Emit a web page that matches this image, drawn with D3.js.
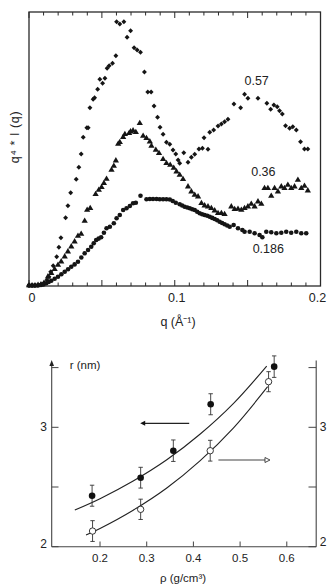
<!DOCTYPE html>
<html><head><meta charset="utf-8">
<script src="https://cdn.jsdelivr.net/npm/d3@7"></script>
<style>
html,body{margin:0;padding:0;background:#fff;}
svg{display:block;font-family:"Liberation Sans",Arial,Helvetica,sans-serif;}
</style></head>
<body>
<script>
// ---------- top panel data: q (1/Å) and q^4*I(q) (arbitrary units) ----------
const q057 = [0,0.0021,0.0041,0.0062,0.0082,0.0103,0.0123,0.0137,0.0149,0.0166,0.0190,0.0205,0.0219,0.0251,0.0267,0.0286,0.0324,0.0342,0.0358,0.0372,0.0397,0.0406,0.0418,0.0440,0.0450,0.0471,0.0486,0.0505,0.0521,0.0536,0.0550,0.0573,0.0596,0.0601,0.0623,0.0651,0.0673,0.0697,0.0721,0.0742,0.0765,0.0792,0.0815,0.0838,0.0858,0.0882,0.0899,0.0920,0.0943,0.0966,0.0988,0.1007,0.1023,0.1034,0.1062,0.1091,0.1114,0.1137,0.1166,0.1190,0.1201,0.1228,0.1240,0.1267,0.1297,0.1320,0.1342,0.1365,0.1406,0.1452,0.1479,0.1502,0.1571,0.1632,0.1658,0.1680,0.1703,0.1719,0.1738,0.1760,0.1788,0.1810,0.1834,0.1863,0.1890,0.1913];
const i057 = [0.005,0.005,0.005,0.010,0.015,0.030,0.060,0.093,0.143,0.203,0.293,0.387,0.483,0.683,0.803,0.933,1.067,1.187,1.320,1.487,1.583,1.583,1.783,1.867,1.883,1.967,2.067,2.027,2.077,2.177,2.203,2.227,2.303,2.643,2.620,2.643,2.487,2.553,2.383,2.360,2.337,2.140,1.940,1.940,1.800,1.687,1.587,1.517,1.437,1.417,1.360,1.320,1.260,1.227,1.333,1.237,1.287,1.317,1.370,1.377,1.483,1.367,1.537,1.560,1.600,1.620,1.643,1.667,1.820,1.783,1.917,1.877,1.877,1.827,1.767,1.810,1.793,1.753,1.720,1.603,1.577,1.593,1.560,1.443,1.370,1.370];

const q036 = [0,0.0021,0.0041,0.0062,0.0082,0.0103,0.0130,0.0153,0.0176,0.0199,0.0221,0.0245,0.0267,0.0290,0.0313,0.0336,0.0358,0.0382,0.0399,0.0420,0.0457,0.0479,0.0498,0.0514,0.0532,0.0566,0.0582,0.0596,0.0612,0.0623,0.0646,0.0658,0.0687,0.0697,0.0714,0.0733,0.0760,0.0783,0.0806,0.0829,0.0840,0.0870,0.0892,0.0920,0.0943,0.0969,0.0993,0.1012,0.1034,0.1057,0.1091,0.1114,0.1137,0.1160,0.1183,0.1205,0.1228,0.1251,0.1274,0.1297,0.1320,0.1342,0.1388,0.1411,0.1434,0.1457,0.1479,0.1502,0.1525,0.1548,0.1571,0.1594,0.1616,0.1639,0.1662,0.1685,0.1708,0.1731,0.1753,0.1776,0.1799,0.1822,0.1845,0.1868,0.1890,0.1913];
const i036 = [0.005,0.005,0.005,0.010,0.015,0.030,0.093,0.127,0.167,0.210,0.243,0.293,0.343,0.393,0.443,0.500,0.520,0.650,0.760,0.777,0.917,0.960,0.987,1.027,1.070,1.160,1.200,1.253,1.420,1.437,1.487,1.517,1.527,1.543,1.553,1.537,1.627,1.500,1.477,1.443,1.400,1.360,1.327,1.267,1.227,1.210,1.180,1.143,1.110,1.067,0.993,0.943,0.910,0.893,0.827,0.803,0.793,0.777,0.753,0.727,0.727,0.717,0.793,0.767,0.770,0.760,0.777,0.793,0.820,0.793,0.843,0.820,0.977,0.977,0.900,0.977,0.943,0.993,0.977,1.010,0.977,0.993,1.060,0.977,1.000,0.953];

const q0186 = [0,0.0021,0.0041,0.0062,0.0082,0.0100,0.0118,0.0135,0.0153,0.0176,0.0199,0.0222,0.0245,0.0268,0.0290,0.0313,0.0336,0.0359,0.0382,0.0405,0.0427,0.0444,0.0461,0.0478,0.0495,0.0514,0.0532,0.0555,0.0582,0.0601,0.0623,0.0646,0.0669,0.0692,0.0714,0.0733,0.0765,0.0806,0.0829,0.0851,0.0875,0.0897,0.0920,0.0943,0.0966,0.0986,0.1007,0.1034,0.1051,0.1068,0.1086,0.1103,0.1120,0.1137,0.1154,0.1171,0.1188,0.1205,0.1223,0.1240,0.1257,0.1274,0.1291,0.1308,0.1325,0.1342,0.1360,0.1377,0.1404,0.1434,0.1464,0.1479,0.1514,0.1548,0.1582,0.1601,0.1628,0.1662,0.1697,0.1731,0.1765,0.1799,0.1834,0.1868,0.1902];
const i0186 = [0.005,0.005,0.005,0.005,0.010,0.015,0.027,0.040,0.053,0.072,0.093,0.118,0.143,0.168,0.193,0.216,0.243,0.285,0.327,0.360,0.393,0.428,0.460,0.474,0.487,0.532,0.577,0.593,0.627,0.677,0.710,0.760,0.777,0.800,0.827,0.833,0.903,0.867,0.870,0.870,0.870,0.867,0.867,0.867,0.865,0.850,0.833,0.817,0.805,0.793,0.785,0.777,0.768,0.760,0.742,0.727,0.718,0.710,0.702,0.693,0.681,0.670,0.657,0.643,0.630,0.617,0.605,0.593,0.610,0.577,0.560,0.543,0.543,0.527,0.510,0.487,0.543,0.537,0.527,0.533,0.543,0.533,0.543,0.527,0.527];

const topXTicks = [0, 0.1, 0.2];
const seriesLabels = [
  {text:"0.57", q:0.1562, i:2.01},
  {text:"0.36", q:0.1608, i:1.105},
  {text:"0.186", q:0.1642, i:0.335}
];

// ---------- bottom panel data ----------
const rhoFilled = [0.183, 0.287, 0.357, 0.437, 0.573];
const rFilled   = [2.427, 2.578, 2.804, 3.193, 3.508];
const errFilled = [0.088, 0.087, 0.090, 0.088, 0.090];
const rhoOpen = [0.184, 0.287, 0.436, 0.561];
const rOpen   = [2.131, 2.313, 2.804, 3.382];
const errOpen = [0.087, 0.085, 0.087, 0.084];
const fitUpperRho = [0.146, 0.200, 0.271, 0.343, 0.414, 0.486, 0.557];
const fitUpperR   = [2.307, 2.402, 2.550, 2.728, 2.942, 3.201, 3.513];
const fitLowerRho = [0.170, 0.200, 0.271, 0.343, 0.414, 0.486, 0.559];
const fitLowerR   = [2.098, 2.153, 2.306, 2.492, 2.719, 2.996, 3.340];
const rhoTicks = [0.2, 0.3, 0.4, 0.5, 0.6];
const rTicks = [2, 2.5, 3, 3.5];
const rTickLabels = {2:"2", 3:"3"};
const arrowLeft  = {from:0.391, to:0.286, r:3.033};
const arrowRight = {from:0.4535, to:0.564, r:2.726};

const W = 332, H = 587;
const ink = "#151515";
const svg = d3.select("body").append("svg").attr("width", W).attr("height", H);

// ================= TOP PANEL =================
const xT = d3.scaleLinear().domain([0, 0.2]).range([29, 320.5]);
const yT = d3.scaleLinear().domain([0, 2.74]).range([286, 12]);
const gTop = svg.append("g");

gTop.append("rect").attr("x", 29).attr("y", 12).attr("width", 320.5-29).attr("height", 286-12)
  .attr("fill", "none").attr("stroke", "#2a2a2a").attr("stroke-width", 1.3);

const minor = d3.range(0, 21).map(k => k/100);
minor.forEach(v => {
  const major = Math.round(v*100) % 5 === 0;
  const len = major ? 6 : 3.5;
  gTop.append("line").attr("x1", xT(v)).attr("x2", xT(v)).attr("y1", 286).attr("y2", 286-len)
    .attr("stroke", "#2a2a2a").attr("stroke-width", 1);
  gTop.append("line").attr("x1", xT(v)).attr("x2", xT(v)).attr("y1", 12).attr("y2", 12+len)
    .attr("stroke", "#2a2a2a").attr("stroke-width", 1);
});
topXTicks.forEach(v => {
  gTop.append("text").attr("x", xT(v) + (v===0?3:(v===0.2?-3:2))).attr("y", 302)
    .attr("text-anchor", "middle").attr("font-size", 12.5).attr("fill", "#222")
    .text(v === 0 ? "0" : d3.format(".1f")(v));
});
gTop.append("text").attr("x", 178).attr("y", 326).attr("text-anchor", "middle")
  .attr("font-size", 12.5).attr("fill", "#222").text("q (Å⁻¹)");
gTop.append("text").attr("transform", "translate(19,137) rotate(-90)").attr("text-anchor", "middle")
  .attr("font-size", 12.5).attr("fill", "#222").attr("letter-spacing", 0.6).text("q⁴ * I (q)");

const diamond = d3.symbol().type(d3.symbolSquare).size(12);
const tri = d3.symbol().type(d3.symbolTriangle).size(17);

gTop.append("g").selectAll("path").data(q057.map((q,k)=>[q,i057[k]])).join("path")
  .attr("d", diamond).attr("transform", d => `translate(${xT(d[0])},${yT(d[1])}) rotate(45)`).attr("fill", ink);
gTop.append("g").selectAll("path").data(q036.map((q,k)=>[q,i036[k]])).join("path")
  .attr("d", tri).attr("transform", d => `translate(${xT(d[0])},${yT(d[1])})`).attr("fill", ink);
gTop.append("g").selectAll("circle").data(q0186.map((q,k)=>[q,i0186[k]])).join("circle")
  .attr("cx", d => xT(d[0])).attr("cy", d => yT(d[1])).attr("r", 2.3).attr("fill", ink);

seriesLabels.forEach(l => {
  gTop.append("text").attr("x", xT(l.q)).attr("y", yT(l.i)).attr("text-anchor", "middle")
    .attr("font-size", 12.5).attr("fill", "#222").text(l.text);
});

// ================= BOTTOM PANEL =================
const xB = d3.scaleLinear().domain([0.0965, 0.663]).range([51.7, 316.2]);
const yB = d3.scaleLinear().domain([2, 3]).range([546.7, 427.3]);
const gBot = svg.append("g");
const axc = "#444";

gBot.append("line").attr("x1", 51.7).attr("x2", 316.2).attr("y1", 546.7).attr("y2", 546.7).attr("stroke", axc).attr("stroke-width", 1.1);
gBot.append("line").attr("x1", 51.7).attr("x2", 51.7).attr("y1", 546.7).attr("y2", 364).attr("stroke", axc).attr("stroke-width", 1.1);
gBot.append("path").attr("d", "M51.7,360 L49.4,366 L54,366 Z").attr("fill", "#222");
gBot.append("line").attr("x1", 316.2).attr("x2", 316.2).attr("y1", 546.7).attr("y2", 360.5).attr("stroke", axc).attr("stroke-width", 1.1);

rhoTicks.forEach(v => {
  gBot.append("line").attr("x1", xB(v)).attr("x2", xB(v)).attr("y1", 546.7).attr("y2", 541.5).attr("stroke", axc);
  gBot.append("text").attr("x", xB(v)).attr("y", 561.5).attr("text-anchor", "middle")
    .attr("font-size", 11.5).attr("fill", "#222").text(d3.format(".1f")(v));
});
rTicks.forEach(v => {
  gBot.append("line").attr("x1", 51.7).attr("x2", 58.5).attr("y1", yB(v)).attr("y2", yB(v)).attr("stroke", axc);
  gBot.append("line").attr("x1", 316.2).attr("x2", 308.5).attr("y1", yB(v)).attr("y2", yB(v)).attr("stroke", axc);
  if (rTickLabels[v]) {
    gBot.append("text").attr("x", 43.5).attr("y", yB(v) + 4 - (v===2?2.5:0)).attr("text-anchor", "middle")
      .attr("font-size", 12).attr("fill", "#222").text(rTickLabels[v]);
    gBot.append("text").attr("x", 323).attr("y", yB(v) + 4 - (v===2?5:0)).attr("text-anchor", "middle")
      .attr("font-size", 12).attr("fill", "#222").text(rTickLabels[v]);
  }
});
gBot.append("text").attr("x", 85).attr("y", 369).attr("text-anchor", "middle")
  .attr("font-size", 11.5).attr("fill", "#222").text("r (nm)");
gBot.append("text").attr("x", 183).attr("y", 582).attr("text-anchor", "middle")
  .attr("font-size", 11.5).attr("fill", "#222").text("ρ (g/cm³)");

const line = d3.line().x(d => xB(d[0])).y(d => yB(d[1])).curve(d3.curveCatmullRom);
gBot.append("path").attr("d", line(fitUpperRho.map((r,k)=>[r, fitUpperR[k]])))
  .attr("fill", "none").attr("stroke", "#222").attr("stroke-width", 1.1);
gBot.append("path").attr("d", line(fitLowerRho.map((r,k)=>[r, fitLowerR[k]])))
  .attr("fill", "none").attr("stroke", "#222").attr("stroke-width", 1.1);

function errBars(rho, r, e) {
  rho.forEach((x,k) => {
    const px = xB(x), y1 = yB(r[k]-e[k]), y2 = yB(r[k]+e[k]);
    gBot.append("line").attr("x1", px).attr("x2", px).attr("y1", y1).attr("y2", y2).attr("stroke", "#333").attr("stroke-width", 0.9);
    [y1, y2].forEach(y => gBot.append("line").attr("x1", px-2.2).attr("x2", px+2.2).attr("y1", y).attr("y2", y).attr("stroke", "#333").attr("stroke-width", 0.9));
  });
}
errBars(rhoFilled, rFilled, errFilled);
errBars(rhoOpen, rOpen, errOpen);

gBot.append("g").selectAll("circle").data(rhoFilled.map((x,k)=>[x,rFilled[k]])).join("circle")
  .attr("cx", d => xB(d[0])).attr("cy", d => yB(d[1])).attr("r", 3.3).attr("fill", "#111");
gBot.append("g").selectAll("circle").data(rhoOpen.map((x,k)=>[x,rOpen[k]])).join("circle")
  .attr("cx", d => xB(d[0])).attr("cy", d => yB(d[1])).attr("r", 3.2).attr("fill", "#fff")
  .attr("stroke", "#222").attr("stroke-width", 0.9);

{
  const y = yB(arrowLeft.r), x0 = xB(arrowLeft.from), x1 = xB(arrowLeft.to);
  gBot.append("line").attr("x1", x0).attr("x2", x1 + 4).attr("y1", y).attr("y2", y).attr("stroke", "#222").attr("stroke-width", 1.1);
  gBot.append("path").attr("d", `M${x1},${y} L${x1+5},${y-2.5} L${x1+5},${y+2.5} Z`).attr("fill", "#111");
}
{
  const y = yB(arrowRight.r), x0 = xB(arrowRight.from), x1 = xB(arrowRight.to);
  gBot.append("line").attr("x1", x0).attr("x2", x1 - 5).attr("y1", y).attr("y2", y).attr("stroke", "#444").attr("stroke-width", 1.1);
  gBot.append("path").attr("d", `M${x1},${y} L${x1-5},${y-2.5} L${x1-5},${y+2.5} Z`).attr("fill", "#fff")
    .attr("stroke", "#333").attr("stroke-width", 0.9);
}
</script>
</body></html>
